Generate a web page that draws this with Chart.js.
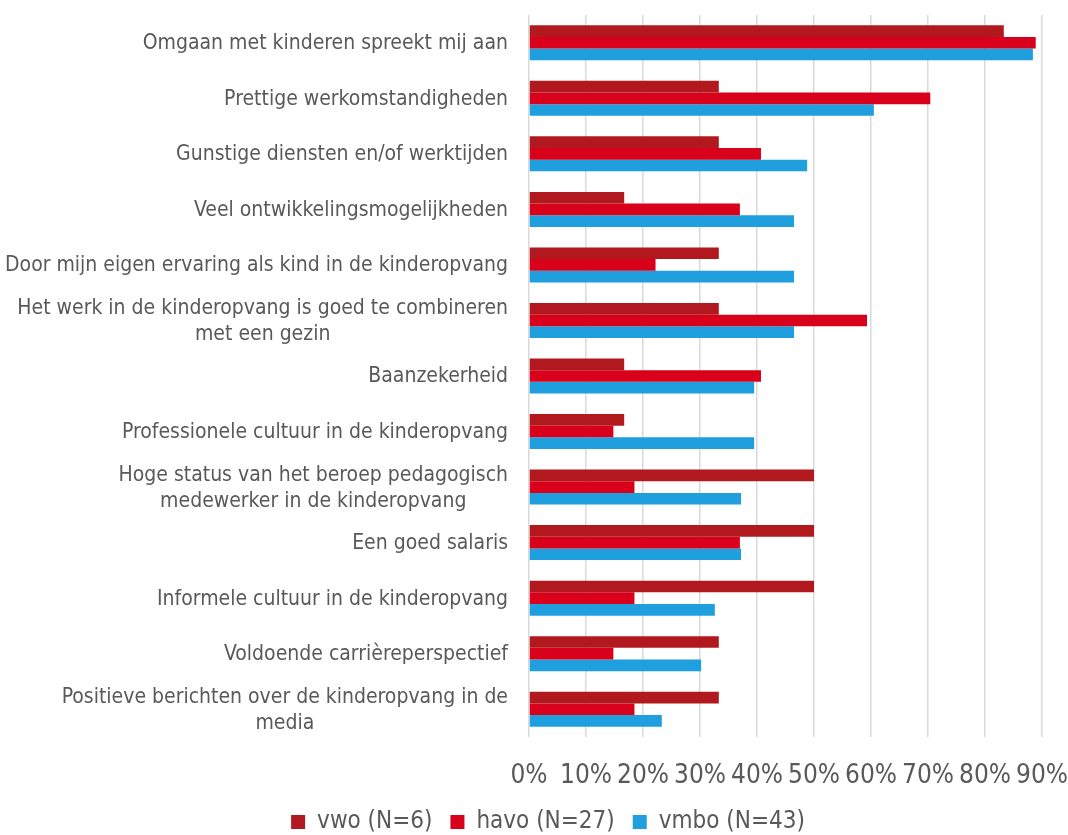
<!DOCTYPE html>
<html>
<head>
<meta charset="utf-8">
<script src="https://cdn.jsdelivr.net/npm/chart.js@4.4.0/dist/chart.umd.js"></script>
<style>
  html, body { margin: 0; padding: 0; background: #ffffff; }
  #wrap { width: 1068px; height: 835px; }
</style>
</head>
<body>
<div id="wrap"><canvas id="chart" width="1068" height="835"></canvas></div>
<script>
// Categories (multi-line labels as arrays)
const categories = [
    ['Omgaan met kinderen spreekt mij aan'],
    ['Prettige werkomstandigheden'],
    ['Gunstige diensten en/of werktijden'],
    ['Veel ontwikkelingsmogelijkheden'],
    ['Door mijn eigen ervaring als kind in de kinderopvang'],
    ['Het werk in de kinderopvang is goed te combineren', 'met een gezin'],
    ['Baanzekerheid'],
    ['Professionele cultuur in de kinderopvang'],
    ['Hoge status van het beroep pedagogisch', 'medewerker in de kinderopvang'],
    ['Een goed salaris'],
    ['Informele cultuur in de kinderopvang'],
    ['Voldoende carrièreperspectief'],
    ['Positieve berichten over de kinderopvang in de', 'media']
];

// Series values (percent)
const vwo  = [83.3, 33.3, 33.3, 16.7, 33.3, 33.3, 16.7, 16.7, 50.0, 50.0, 50.0, 33.3, 33.3];
const havo = [88.9, 70.4, 40.7, 37.0, 22.2, 59.3, 40.7, 14.8, 18.5, 37.0, 18.5, 14.8, 18.5];
const vmbo = [88.4, 60.5, 48.8, 46.5, 46.5, 46.5, 39.5, 39.5, 37.2, 37.2, 32.6, 30.2, 23.3];

const seriesNames = ['vwo (N=6)', 'havo (N=27)', 'vmbo (N=43)'];
const seriesColors = ['#B2191E', '#D9001B', '#1F9FDE'];

const textColor = '#595959';
const fontFamily = "'DejaVu Sans Condensed', 'DejaVu Sans', sans-serif";

// Draw category labels: single lines right aligned, multi-line blocks centred
const categoryLabels = {
    id: 'categoryLabels',
    afterDraw(chart) {
        const ctx = chart.ctx;
        const yScale = chart.scales.y;
        const rightEdge = yScale.right - 21;
        const lineHeight = 26;
        ctx.save();
        ctx.font = '21px ' + fontFamily;
        ctx.fillStyle = textColor;
        ctx.textBaseline = 'middle';
        ctx.textAlign = 'center';
        categories.forEach((lines, i) => {
            const yc = yScale.getPixelForTick(i) + 1;
            const maxW = Math.max(...lines.map(l => ctx.measureText(l).width));
            const xc = rightEdge - maxW / 2;
            const top = yc - (lines.length - 1) * lineHeight / 2;
            lines.forEach((l, j) => ctx.fillText(l, xc, top + j * lineHeight));
        });
        ctx.restore();
    }
};

new Chart(document.getElementById('chart'), {
    type: 'bar',
    data: {
        labels: categories.map(c => c.join(' ')),
        datasets: [
            { label: seriesNames[0], data: vwo,  backgroundColor: seriesColors[0] },
            { label: seriesNames[1], data: havo, backgroundColor: seriesColors[1] },
            { label: seriesNames[2], data: vmbo, backgroundColor: seriesColors[2] }
        ]
    },
    options: {
        indexAxis: 'y',
        responsive: false,
        animation: false,
        devicePixelRatio: 1,
        layout: {
            padding: { top: 15, right: 26, left: 54, bottom: -9 }
        },
        datasets: {
            bar: {
                categoryPercentage: 0.63,
                barPercentage: 1.0,
                borderWidth: 0
            }
        },
        scales: {
            x: {
                min: 0,
                max: 90,
                border: { display: false },
                grid: {
                    color: '#d9d9d9',
                    lineWidth: 1.5,
                    drawTicks: false
                },
                ticks: {
                    stepSize: 10,
                    padding: 24,
                    autoSkip: false,
                    maxRotation: 0,
                    minRotation: 0,
                    color: textColor,
                    font: { size: 26, family: fontFamily },
                    callback: v => v + '%'
                },
                afterFit: scale => {
                    scale.height = 55;
                    scale.paddingLeft = 0;
                    scale.paddingRight = 0;
                }
            },
            y: {
                border: { display: false },
                grid: { display: false, drawTicks: false },
                ticks: { display: false },
                afterFit: scale => { scale.width = 475; }
            }
        },
        plugins: {
            legend: {
                position: 'bottom',
                labels: {
                    boxWidth: 14,
                    boxHeight: 14,
                    padding: 18,
                    color: textColor,
                    font: { size: 24, family: fontFamily }
                }
            },
            tooltip: { enabled: false }
        }
    },
    plugins: [categoryLabels]
});
</script>
</body>
</html>
